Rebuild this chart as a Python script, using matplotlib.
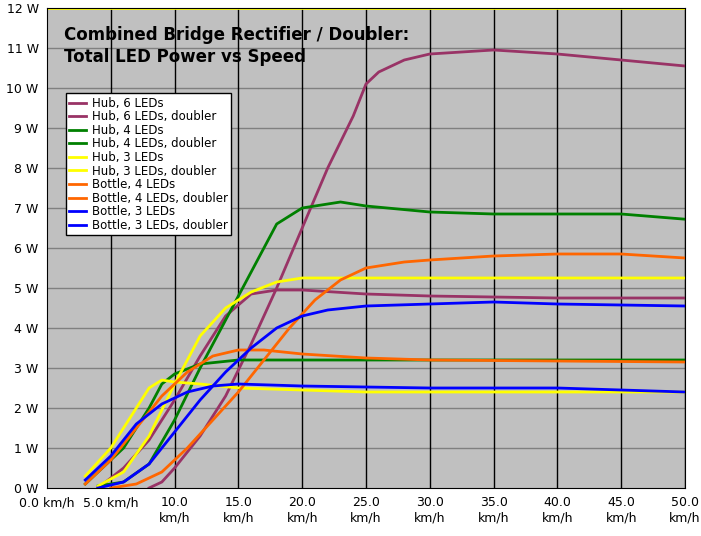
import matplotlib
matplotlib.use("Agg")
import matplotlib.pyplot as plt
import numpy as np

hub6_x = [4, 6, 8, 10, 12, 14, 16, 18, 20, 25, 30, 40, 50]
hub6_y = [0, 0.5, 1.2, 2.2, 3.3, 4.3, 4.85, 4.95, 4.95, 4.85, 4.8, 4.75, 4.75]
hub6d_x = [8, 9, 10, 12, 14, 16, 18, 20, 22, 24, 25, 26, 28, 30, 35, 40, 45, 50]
hub6d_y = [0, 0.15, 0.5, 1.3, 2.3, 3.6, 5.0, 6.5, 8.0, 9.3, 10.1, 10.4, 10.7, 10.85, 10.95, 10.85, 10.7, 10.55]
hub4_x = [3, 4, 6, 8, 9, 10, 12, 15, 20, 30, 40, 50]
hub4_y = [0.1, 0.4, 1.0, 2.0, 2.6, 2.85, 3.1, 3.2, 3.2, 3.2, 3.2, 3.2]
hub4d_x = [4, 6, 8, 10, 12, 14, 16, 18, 20, 23, 25, 30, 35, 45, 50]
hub4d_y = [0.05, 0.15, 0.6, 1.7, 3.0, 4.2, 5.4, 6.6, 7.0, 7.15, 7.05, 6.9, 6.85, 6.85, 6.72]
hub3_x = [3, 5, 7, 8, 9, 10, 12, 15, 20, 25, 50]
hub3_y = [0.3, 1.0, 2.0, 2.5, 2.7, 2.65, 2.6, 2.5, 2.45, 2.4, 2.4]
hub3d_x = [4, 6, 8, 10, 12, 14, 16, 18, 20, 25, 50]
hub3d_y = [0.05, 0.4, 1.3, 2.6, 3.8, 4.5, 4.9, 5.15, 5.25, 5.25, 5.25]
bot4_x = [3, 5, 7, 9, 11, 13, 15, 17, 20, 25, 30, 50]
bot4_y = [0.1, 0.7, 1.5, 2.3, 2.9, 3.3, 3.45, 3.45, 3.35, 3.25, 3.2, 3.15]
bot4d_x = [5, 7, 9, 11, 13, 15, 17, 19, 21, 23, 25, 28, 30, 35, 40, 45, 50]
bot4d_y = [0.0, 0.1, 0.4, 1.0, 1.7, 2.4, 3.2, 4.0, 4.7, 5.2, 5.5, 5.65, 5.7, 5.8, 5.85, 5.85, 5.75]
bot3_x = [3, 5, 7, 9, 11, 13, 15, 20, 30, 40, 50]
bot3_y = [0.2, 0.8, 1.6, 2.1, 2.4, 2.55, 2.6, 2.55, 2.5, 2.5, 2.4]
bot3d_x = [4, 6, 8, 10, 12, 14, 16, 18, 20, 22, 25, 30, 35, 40, 50]
bot3d_y = [0.0, 0.15, 0.6, 1.4, 2.2, 2.9, 3.5, 4.0, 4.3, 4.45, 4.55, 4.6, 4.65, 4.6, 4.55]

series = [
    ("Hub, 6 LEDs", hub6_x, hub6_y, "#993366"),
    ("Hub, 6 LEDs, doubler", hub6d_x, hub6d_y, "#993366"),
    ("Hub, 4 LEDs", hub4_x, hub4_y, "#008000"),
    ("Hub, 4 LEDs, doubler", hub4d_x, hub4d_y, "#008000"),
    ("Hub, 3 LEDs", hub3_x, hub3_y, "#FFFF00"),
    ("Hub, 3 LEDs, doubler", hub3d_x, hub3d_y, "#FFFF00"),
    ("Bottle, 4 LEDs", bot4_x, bot4_y, "#FF6600"),
    ("Bottle, 4 LEDs, doubler", bot4d_x, bot4d_y, "#FF6600"),
    ("Bottle, 3 LEDs", bot3_x, bot3_y, "#0000FF"),
    ("Bottle, 3 LEDs, doubler", bot3d_x, bot3d_y, "#0000FF"),
]
xticks = [0, 5, 10, 15, 20, 25, 30, 35, 40, 45, 50]
xlabels = ["0.0 km/h", "5.0 km/h"] + ["%.1f\nkm/h" % v for v in xticks[2:]]
yticks = list(range(13))
ylabels = ["%d W" % v for v in yticks]

fig = plt.figure(figsize=(7.01, 5.36), dpi=100)
ax = fig.add_axes([47/701, 48/536, 638/701, 480/536])
ax.set_facecolor("#C0C0C0")
for v in yticks[1:12]:
    ax.axhline(v, color="#808080", lw=1, zorder=0)
for v in xticks[1:]:
    ax.axvline(v, color="black", lw=1, zorder=0)
ax.axhline(12, color="#FFFF00", lw=2, zorder=1)
for name, xs, ys, c in series:
    ax.plot(xs, ys, color=c, lw=2, label=name)
ax.set_xlim(0, 50)
ax.set_ylim(0, 12)
ax.set_xticks(xticks)
ax.set_xticklabels(xlabels, fontsize=9)
ax.set_yticks(yticks)
ax.set_yticklabels(ylabels, fontsize=9)
ax.tick_params(length=0, pad=6)
for s in ax.spines.values():
    s.set_color("black")
ax.text(1.3, 11.55, "Combined Bridge Rectifier / Doubler:\nTotal LED Power vs Speed",
        fontsize=12, fontweight="bold", va="top", linespacing=1.3)
leg = ax.legend(loc="upper left", bbox_to_anchor=(0.02, 0.835), fontsize=8.5,
                frameon=True, fancybox=False, edgecolor="black", handlelength=1.4,
                borderpad=0.3, labelspacing=0.05, handletextpad=0.5,
                framealpha=1, facecolor="white")
leg.get_frame().set_linewidth(1)
fig.savefig("out.png", dpi=100, facecolor="white")
